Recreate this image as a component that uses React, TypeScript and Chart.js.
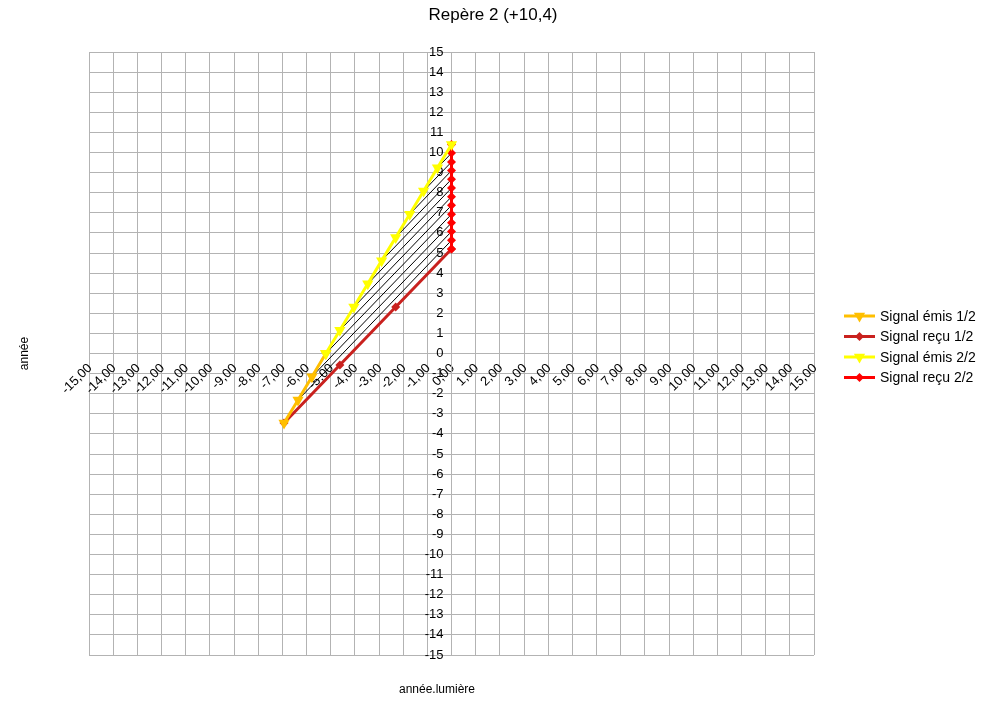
import React, { useEffect, useRef } from "react";
import { Chart, registerables } from "chart.js";

Chart.register(...registerables);

// ---- Data ----
const titleText = "Repère 2 (+10,4)";
const xAxisTitle = "année.lumière";
const yAxisTitle = "année";

const seriesNames = ["Signal émis 1/2", "Signal reçu 1/2", "Signal émis 2/2", "Signal reçu 2/2"];
const seriesColors = ["#ffbf00", "#c9211e", "#ffff00", "#ff0000"];

const emis1X = [-6.93, -6.35, -5.775, -5.2];
const emis1Y = [-3.46, -2.31, -1.155, 0];

const recu1X = [-6.93, -4.62, -2.31, 0];
const recu1Y = [-3.46, -0.57, 2.31, 5.2];

const emis2X = [-5.2, -4.62, -4.04, -3.465, -2.89, -2.31, -1.73, -1.155, -0.58, 0];
const emis2Y = [0, 1.155, 2.31, 3.465, 4.62, 5.775, 6.93, 8.085, 9.24, 10.4];

const recu2X = [0, 0, 0, 0, 0, 0, 0, 0, 0, 0, 0, 0, 0];
const recu2Y = [5.2, 5.63, 6.07, 6.5, 6.93, 7.37, 7.8, 8.23, 8.67, 9.1, 9.53, 9.97, 10.4];

// light signal paths (black lines), from emission point to reception at x = 0
const lightFromX = [-6.35, -5.775, -5.2, -4.62, -4.04, -3.465, -2.89, -2.31, -1.73, -1.155, -0.58];
const lightFromY = [-2.31, -1.155, 0, 1.155, 2.31, 3.465, 4.62, 5.775, 6.93, 8.085, 9.24];
const lightToX = [0, 0, 0, 0, 0, 0, 0, 0, 0, 0, 0];
const lightToY = [5.63, 6.07, 6.5, 6.93, 7.37, 7.8, 8.23, 8.67, 9.1, 9.53, 9.97];

const axisMin = -15;
const axisMax = 15;

const FONT = "'Liberation Sans', Arial, sans-serif";

const toPoints = (xs: number[], ys: number[]) => xs.map((x, i) => ({ x, y: ys[i] }));

function drawMarker(ctx: CanvasRenderingContext2D, kind: "tri" | "dia", x: number, y: number, color: string) {
  ctx.save();
  ctx.fillStyle = color;
  ctx.beginPath();
  if (kind === "tri") {
    const r = 6.5;
    ctx.moveTo(x - r * 0.866, y - r * 0.5);
    ctx.lineTo(x + r * 0.866, y - r * 0.5);
    ctx.lineTo(x, y + r);
  } else {
    const r = 4.5;
    ctx.moveTo(x - r, y);
    ctx.lineTo(x, y - r);
    ctx.lineTo(x + r, y);
    ctx.lineTo(x, y + r);
  }
  ctx.closePath();
  ctx.fill();
  ctx.restore();
}

// shifts the tick labels of the centred axes away from the axis lines
const labelShiftPlugin = {
  id: "labelShift",
  beforeDraw(chart: any) {
    const shifts: Record<string, [number, number]> = { x: [1, 3], y: [-8, 0] };
    for (const id of Object.keys(shifts)) {
      const scale = chart.scales[id];
      if (!scale || typeof scale.getLabelItems !== "function") continue;
      const items = scale.getLabelItems(chart.chartArea);
      for (const it of items) {
        if (it.__shifted) continue;
        const t = it.options && it.options.translation;
        if (t) {
          t[0] += shifts[id][0];
          t[1] += shifts[id][1];
        }
        it.__shifted = true;
      }
    }
  },
};

const decorPlugin = {
  id: "decor",
  afterDraw(chart: any) {
    const ctx: CanvasRenderingContext2D = chart.ctx;
    const ca = chart.chartArea;
    ctx.save();
    // title
    ctx.fillStyle = "#000";
    ctx.font = `17px ${FONT}`;
    ctx.textAlign = "center";
    ctx.textBaseline = "middle";
    ctx.fillText(titleText, 493, 15);
    // x axis title
    ctx.font = `12px ${FONT}`;
    ctx.fillText(xAxisTitle, 437, 690);
    // y axis title
    ctx.save();
    ctx.translate(25, (ca.top + ca.bottom) / 2);
    ctx.rotate(-Math.PI / 2);
    ctx.fillText(yAxisTitle, 0, 0);
    ctx.restore();
    // legend
    const rowsY = [316, 336.5, 357, 377.5];
    const kinds: ("tri" | "dia")[] = ["tri", "dia", "tri", "dia"];
    ctx.font = `14px ${FONT}`;
    ctx.textAlign = "left";
    for (let i = 0; i < seriesNames.length; i++) {
      const y = rowsY[i];
      ctx.strokeStyle = seriesColors[i];
      ctx.lineWidth = 3;
      ctx.beginPath();
      ctx.moveTo(844, y);
      ctx.lineTo(875, y);
      ctx.stroke();
      drawMarker(ctx, kinds[i], 859.5, y, seriesColors[i]);
      ctx.fillStyle = "#000";
      ctx.fillText(seriesNames[i], 880, y + 1);
    }
    ctx.restore();
  },
};

export default function App() {
  const canvasRef = useRef<HTMLCanvasElement>(null);

  useEffect(() => {
    const canvas = canvasRef.current;
    if (!canvas) return;

    const lightSets = lightFromX.map((fx, i) => ({
      label: "_light" + i,
      data: [
        { x: fx, y: lightFromY[i] },
        { x: lightToX[i], y: lightToY[i] },
      ],
      showLine: true,
      borderColor: "#000000",
      backgroundColor: "#000000",
      borderWidth: 1,
      pointRadius: 0,
      order: 10,
    }));

    const chart = new Chart(canvas, {
      type: "scatter",
      data: {
        datasets: [
          {
            label: seriesNames[0],
            data: toPoints(emis1X, emis1Y),
            showLine: true,
            borderColor: seriesColors[0],
            backgroundColor: seriesColors[0],
            borderWidth: 3,
            pointStyle: "triangle",
            pointRotation: 180,
            pointRadius: 6.5,
            pointBorderWidth: 0,
            order: 3,
          },
          {
            label: seriesNames[1],
            data: toPoints(recu1X, recu1Y),
            showLine: true,
            borderColor: seriesColors[1],
            backgroundColor: seriesColors[1],
            borderWidth: 3,
            pointStyle: "rectRot",
            pointRadius: 4.5,
            pointBorderWidth: 0,
            order: 4,
          },
          {
            label: seriesNames[2],
            data: toPoints(emis2X, emis2Y),
            showLine: true,
            borderColor: seriesColors[2],
            backgroundColor: seriesColors[2],
            borderWidth: 3,
            pointStyle: "triangle",
            pointRotation: 180,
            pointRadius: 6.5,
            pointBorderWidth: 0,
            order: 1,
          },
          {
            label: seriesNames[3],
            data: toPoints(recu2X, recu2Y),
            showLine: true,
            borderColor: seriesColors[3],
            backgroundColor: seriesColors[3],
            borderWidth: 3,
            pointStyle: "rectRot",
            pointRadius: 4.5,
            pointBorderWidth: 0,
            order: 2,
          },
          ...lightSets,
        ] as any,
      },
      options: {
        animation: false,
        responsive: false,
        maintainAspectRatio: false,
        layout: { padding: { left: 89, top: 52, right: 167, bottom: 50 } },
        plugins: {
          legend: { display: false },
          title: { display: false },
          tooltip: { enabled: false },
        },
        scales: {
          x: {
            type: "linear",
            position: { y: 0 } as any,
            min: axisMin,
            max: axisMax,
            grid: { color: "#b3b3b3", lineWidth: 1, tickLength: 4, tickColor: "#b3b3b3" },
            border: { color: "#b3b3b3", width: 1 },
            ticks: {
              stepSize: 1,
              autoSkip: false,
              minRotation: 45,
              maxRotation: 45,
              padding: 0,
              color: "#000",
              font: { family: FONT, size: 13 },
              callback: (v: any) => Number(v).toFixed(2).replace(".", ","),
            },
          },
          y: {
            type: "linear",
            position: { x: 0 } as any,
            min: axisMin,
            max: axisMax,
            grid: { color: "#b3b3b3", lineWidth: 1, tickLength: 4, tickColor: "#b3b3b3" },
            border: { color: "#b3b3b3", width: 1 },
            ticks: {
              stepSize: 1,
              autoSkip: false,
              padding: 3,
              color: "#000",
              font: { family: FONT, size: 13 },
              callback: (v: any) => String(v),
            },
          },
        },
      },
      plugins: [labelShiftPlugin, decorPlugin],
    });

    return () => chart.destroy();
  }, []);

  return (
    <div style={{ position: "fixed", left: 0, top: 0, width: 981, height: 705, background: "#ffffff" }}>
      <canvas ref={canvasRef} width={981} height={705} style={{ width: 981, height: 705, display: "block" }} />
    </div>
  );
}
